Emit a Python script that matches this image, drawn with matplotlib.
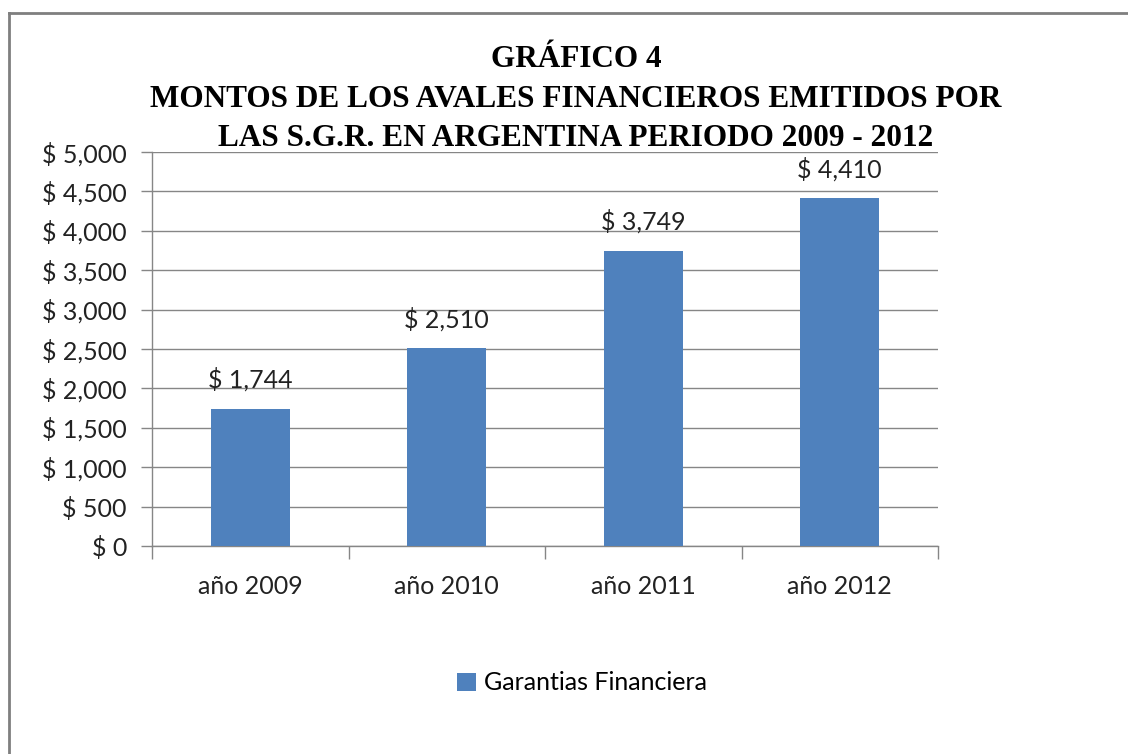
import matplotlib.pyplot as plt
from matplotlib.lines import Line2D
from matplotlib.patches import Patch
from matplotlib.ticker import FuncFormatter

categories = ["año 2009", "año 2010", "año 2011", "año 2012"]
values = [1744, 2510, 3749, 4410]
series_name = "Garantias Financiera"
title_lines = [
    "GRÁFICO 4",
    "MONTOS DE LOS AVALES FINANCIEROS EMITIDOS POR",
    "LAS S.G.R. EN ARGENTINA PERIODO 2009 - 2012",
]

W, H = 1128, 754
fig = plt.figure(figsize=(W / 100, H / 100), dpi=100)
fig.patch.set_facecolor("white")

# plot area in pixel coords of the reference
left, right, top, bottom = 152, 938, 152, 546
ax = fig.add_axes([left / W, 1 - bottom / H, (right - left) / W, (bottom - top) / H])

bar_color = "#4F81BD"
grid_color = "#868686"
text_color = "#222222"
fs = 18
xs = range(len(categories))
ax.bar(xs, values, width=0.4, color=bar_color, zorder=3)

ax.set_xlim(-0.5, len(categories) - 0.5)
ax.set_ylim(0, 5000)
ax.set_yticks(range(0, 5001, 500))
ax.yaxis.set_major_formatter(FuncFormatter(lambda v, p: f"$ {int(v):,}"))
ax.yaxis.grid(True, color=grid_color, linewidth=1)
ax.set_axisbelow(True)

ax.set_xticks(list(xs))
ax.set_xticklabels(categories)
ax.set_xticks([i - 0.5 for i in range(len(categories) + 1)], minor=True)
ax.tick_params(axis="x", which="major", length=0, pad=21)
ax.tick_params(axis="x", which="minor", length=9, color=grid_color, width=1)
ax.tick_params(axis="y", length=8, color=grid_color, width=1, pad=10)
for lab in ax.get_xticklabels() + ax.get_yticklabels():
    lab.set_fontfamily("Lato")
    lab.set_fontsize(fs)
    lab.set_color(text_color)

for s in ["top", "right"]:
    ax.spines[s].set_visible(False)
for s in ["left", "bottom"]:
    ax.spines[s].set_color(grid_color)
    ax.spines[s].set_linewidth(1)

for x, v in zip(xs, values):
    ax.annotate(f"$ {v:,}", (x, v), xytext=(0, 21), textcoords="offset points",
                ha="center", va="center", fontsize=fs, family="Lato", color=text_color)

# title (baselines in pixels from top)
title_base = [67, 107, 146]
for txt, y in zip(title_lines, title_base):
    fig.text(576 / W, 1 - y / H, txt, ha="center", va="baseline",
             fontsize=22.5, fontweight="bold", family="Liberation Serif", color="black")

# legend
fig.legend(handles=[Patch(facecolor=bar_color, label=series_name)],
           loc="center", bbox_to_anchor=(582 / W, 1 - 683 / H), frameon=False,
           prop={"family": "Lato", "size": fs}, handlelength=0.75, handleheight=0.75,
           handletextpad=0.3)

# outer chart border (left and top edges visible)
fig.add_artist(Line2D([9 / W, 9 / W], [0, 1 - 13 / H], color="#7f7f7f", linewidth=2))
fig.add_artist(Line2D([9 / W, 1], [1 - 13 / H, 1 - 13 / H], color="#7f7f7f", linewidth=2))

fig.savefig("out.png", dpi=100)
